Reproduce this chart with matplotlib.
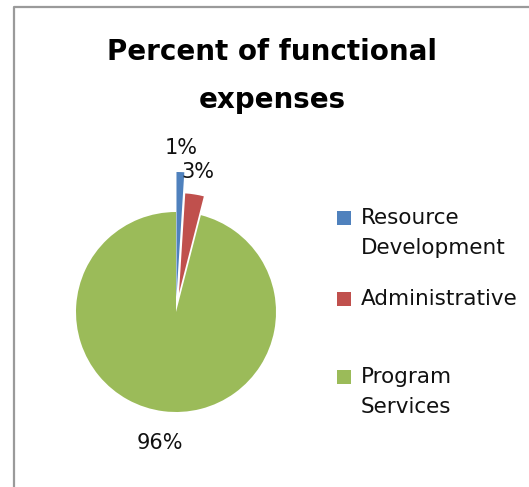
import numpy as np
import matplotlib.pyplot as plt
from matplotlib.patches import Rectangle
from matplotlib.lines import Line2D

#%% data
categories = ['Resource\nDevelopment', 'Administrative', 'Program\nServices']
shares     = [1, 3, 96]
pct_labels = ['1%', '3%', '96%']
colors     = ['#4F81BD', '#C0504D', '#9BBB59']

#%% figure, sizes in pixels
W, H = 529, 487
fig = plt.figure(figsize=(W/100, H/100), dpi=100)

cx, cy = 176, H - 312   # pie centre
ax = fig.add_axes([(cx-150)/W, (cy-150)/H, 300/W, 300/H])
wedges, _ = ax.pie(shares, colors=colors, startangle=90, counterclock=False,
                   explode=[0.15, 0.19, 0], radius=1,
                   wedgeprops=dict(linewidth=0))
wedges[0].set_radius(1.25)   # the thin slice sticks out further in the original
ax.set_xlim(-1.5, 1.5)
ax.set_ylim(-1.5, 1.5)
ax.axis('off')

# percent labels along each slice's middle angle
label_dist = [1.64, 1.42, 1.32]
for w, t, d in zip(wedges, pct_labels, label_dist):
    ang = np.deg2rad((w.theta1 + w.theta2) / 2)
    ax.text(d*np.cos(ang), d*np.sin(ang), t, ha='center', va='center',
            fontsize=15, color='#111111')

#%% title
fig.text(272/W, 1 - 76/H, 'Percent of functional\nexpenses', ha='center',
         va='center', fontsize=20, fontweight='bold', linespacing=1.9)

#%% legend drawn by hand so the box lines up with the first text line
row_y = [218, 299, 377]
for w, lab, y in zip(wedges, categories, row_y):
    fig.add_artist(Rectangle((337/W, 1 - (y+7)/H), 14/W, 14/H,
                             transform=fig.transFigure,
                             facecolor=w.get_facecolor(), edgecolor='none'))
    fig.text(361/W, 1 - (y-10)/H, lab, ha='left', va='top', fontsize=15.5,
             linespacing=1.65, color='#111111')

#%% chart frame (left and top edges only visible)
fig.add_artist(Line2D([14/W, 14/W, 1], [0, 1 - 6.5/H, 1 - 6.5/H],
                      transform=fig.transFigure, color='#9a9a9a', lw=1.6))

fig.savefig('out.png', dpi=100)
